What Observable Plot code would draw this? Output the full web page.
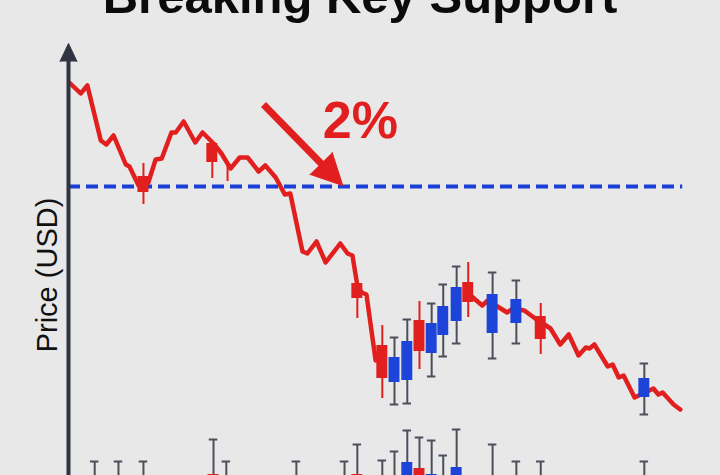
<!DOCTYPE html>
<html>
<head>
<meta charset="utf-8">
<script src="https://cdn.jsdelivr.net/npm/d3@7"></script>
<script src="https://cdn.jsdelivr.net/npm/@observablehq/plot@0.6"></script>
<style>
html, body { margin: 0; padding: 0; background: #e8e8e8; overflow: hidden; }
#wrap { position: relative; width: 720px; height: 475px; overflow: hidden; }
#title { position: absolute; left: 0; top: -28.5px; width: 720px; text-align: center;
  font: bold 49px "Liberation Sans", Arial, sans-serif; line-height: 49px; color: #0b0b0b; z-index: 2; }
#chart { position: absolute; left: 0; top: 0; }
</style>
</head>
<body>
<div id="wrap">
  <div id="title">Breaking Key Support</div>
  <div id="chart"></div>
</div>
<script>
// ---- data ----
const titleText = "Breaking Key Support";
const yLabel = "Price (USD)";
const breakLabel = "2%";
const supportLevel = 100;

// price line (day index, price) before the breakdown candles
const lineA_t = [0.3, 2.0, 3.1, 5.3, 6.2, 7.4, 9.4, 10.0, 11.5, 13.1, 14.3, 15.3, 16.9, 17.6, 18.9, 20.8, 22.0, 23.8, 25.1, 26.6, 28.1, 29.4, 31.2, 32.3, 34.0, 34.8, 35.5, 36.4, 38.4, 39.2, 40.7, 42.2, 44.6, 45.8, 46.6, 47.4, 48.1, 48.9, 50.4];
const lineA_p = [110.3, 109.3, 110.1, 104.6, 104.2, 105.1, 102.2, 102.0, 100.1, 100.4, 102.7, 102.8, 105.4, 105.4, 106.5, 104.4, 105.4, 104.3, 103.3, 101.8, 102.9, 102.9, 101.5, 102.1, 100.9, 100.0, 99.2, 99.3, 93.5, 93.3, 94.5, 92.4, 94.3, 93.3, 93.1, 90.1, 89.4, 89.2, 82.6];
// price line after the rebound
const lineB_t = [65.6, 67.9, 68.8, 72.0, 72.9, 74.8, 76.6, 79.1, 80.7, 82.1, 83.7, 84.9, 85.5, 86.3, 88.5, 89.3, 90.3, 91.1, 92.9, 96.0, 96.8, 97.5, 99.3, 100.4];
const lineB_p = [89.3, 88.1, 88.6, 87.4, 87.8, 87.6, 86.8, 85.8, 84.2, 85.2, 83.1, 83.9, 83.8, 84.2, 82.0, 82.2, 80.9, 81.1, 78.9, 79.8, 79.2, 79.4, 78.2, 77.7];

// candlesticks
const candleT     = [12.3, 23.6, 26.1, 47.4, 51.5, 53.5, 55.6, 57.6, 59.6, 61.5, 63.7, 65.6, 69.6, 73.5, 77.5, 94.5];
const candleOpen  = [101.0, 104.3, 102.1, 90.3, 84.1, 80.4, 80.6, 86.6, 83.3, 85.1, 86.5, 90.4, 85.3, 86.3, 87.0, 78.9];
const candleClose = [99.4, 102.4, 102.1, 88.8, 80.8, 82.9, 84.5, 83.5, 86.3, 88.0, 89.9, 88.4, 89.2, 88.7, 84.7, 80.8];
const candleHigh  = [102.3, 104.3, 102.3, 90.3, 86.1, 84.9, 86.7, 88.5, 88.3, 90.2, 92.0, 92.4, 91.4, 90.6, 88.3, 82.3];
const candleLow   = [98.2, 100.8, 100.5, 86.8, 78.8, 78.2, 78.3, 81.7, 81.0, 83.0, 84.3, 86.9, 82.8, 84.3, 83.2, 77.2];

// lower row of candles (cut off by the bottom edge)
const lowerT       = [4.3, 8.2, 12.3, 23.8, 25.9, 37.4, 45.3, 47.4, 51.5, 53.5, 55.6, 57.6, 59.6, 61.5, 63.7, 69.6, 73.5, 77.5, 94.5];
const lowerHigh    = [72.5, 72.5, 72.5, 74.7, 72.5, 72.5, 72.5, 74.2, 72.6, 73.5, 75.6, 74.9, 74.6, 73.1, 75.7, 74.2, 72.5, 72.5, 72.5];
const lowerBodyTop = [null, null, null, 71.2, null, null, null, 71.2, null, null, 72.4, 71.8, 71.2, null, 71.9, null, null, null, null];
const lowerUp      = [null, null, null, false, null, null, null, false, null, null, true, false, true, null, true, null, null, null, null];

// annotation arrow (from, to support)
const arrowFrom = {t: 32.0, p: 108.2};
const arrowTo   = {t: 45.0, p: 100.1};
const labelPos  = {t: 47.9, p: 104.9};

// ---- layout / style ----
const W = 720, H = 475, ML = 68, MR = 0;
const xDomain = [0, 107], yDomain = [71.1, 118.6];
const RED = "#e21f1f", BLUE = "#1c44d8", DASH = "#1b3fd4", GRAY = "#4a4f5a", AXIS = "#2f3440";
const FONT = "'Liberation Sans', Arial, Helvetica, sans-serif";

const lineData = [
  ...lineA_t.map((t, i) => ({t, p: lineA_p[i], seg: "a"})),
  ...lineB_t.map((t, i) => ({t, p: lineB_p[i], seg: "b"}))
];
const candles = candleT.map((t, i) => ({
  t, open: candleOpen[i], close: candleClose[i], high: candleHigh[i], low: candleLow[i],
  up: candleClose[i] > candleOpen[i]
}));
const upC = candles.filter(d => d.up), downC = candles.filter(d => !d.up);
const lower = lowerT.map((t, i) => ({t, high: lowerHigh[i], body: lowerBodyTop[i], up: lowerUp[i]}));
const lowerBodies = lower.filter(d => d.body != null);

const pxPerT = (W - ML - MR) / (xDomain[1] - xDomain[0]);
const pxPerP = H / (yDomain[1] - yDomain[0]);
const adx = (arrowTo.t - arrowFrom.t) * pxPerT;
const ady = (arrowFrom.p - arrowTo.p) * pxPerP; // screen down
const alen = Math.hypot(adx, ady);
const arrowAngle = Math.atan2(adx, -ady) * 180 / Math.PI;
const headLen = 31;
const f = 1 - 20 / alen;
const shaft = {
  t1: arrowFrom.t, p1: arrowFrom.p,
  t2: arrowFrom.t + f * (arrowTo.t - arrowFrom.t),
  p2: arrowFrom.p + f * (arrowTo.p - arrowFrom.p)
};
const axisTopP = yDomain[1] - 61 / pxPerP;
const halfW = 0.9, capW = 0.7;

const chart = Plot.plot({
  width: W, height: H,
  marginLeft: ML, marginRight: MR, marginTop: 0, marginBottom: 0,
  x: {domain: xDomain, axis: null},
  y: {domain: yDomain, axis: null},
  style: {background: "transparent", overflow: "hidden"},
  marks: [
    // support line
    Plot.ruleY([supportLevel], {x1: 0, x2: 100.8, stroke: DASH, strokeWidth: 4, strokeDasharray: "12,6"}),
    // price line
    Plot.line(lineData, {x: "t", y: "p", z: "seg", stroke: RED, strokeWidth: 4.5, strokeLinejoin: "round", strokeLinecap: "round"}),
    // lower row
    Plot.ruleX(lower, {x: "t", y1: yDomain[0], y2: "high", stroke: GRAY, strokeWidth: 2}),
    Plot.ruleY(lower, {y: "high", x1: d => d.t - capW, x2: d => d.t + capW, stroke: GRAY, strokeWidth: 2}),
    Plot.rect(lowerBodies, {x1: d => d.t - halfW, x2: d => d.t + halfW, y1: yDomain[0], y2: "body", fill: d => d.up ? BLUE : RED}),
    // candle wicks
    Plot.ruleX(downC, {x: "t", y1: "low", y2: "high", stroke: RED, strokeWidth: 2}),
    Plot.ruleX(upC, {x: "t", y1: "low", y2: "high", stroke: GRAY, strokeWidth: 2}),
    Plot.ruleY(upC, {y: "high", x1: d => d.t - capW, x2: d => d.t + capW, stroke: GRAY, strokeWidth: 2}),
    Plot.ruleY(upC, {y: "low", x1: d => d.t - capW, x2: d => d.t + capW, stroke: GRAY, strokeWidth: 2}),
    // candle bodies
    Plot.rect(downC, {x1: d => d.t - halfW, x2: d => d.t + halfW, y1: "open", y2: "close", fill: RED}),
    Plot.rect(upC, {x1: d => d.t - halfW, x2: d => d.t + halfW, y1: "open", y2: "close", fill: BLUE}),
    // y axis with arrowhead
    Plot.ruleX([0], {y1: yDomain[0], y2: axisTopP, stroke: AXIS, strokeWidth: 4}),
    Plot.vector([{t: 0, p: axisTopP}], {x: "t", y: "p", shape: "spike", length: 18, r: 8.5, rotate: 0, anchor: "start", fill: AXIS, stroke: AXIS, strokeWidth: 1}),
    // annotation arrow
    Plot.link([shaft], {x1: "t1", y1: "p1", x2: "t2", y2: "p2", stroke: RED, strokeWidth: 7, strokeLinecap: "butt"}),
    Plot.vector([arrowTo], {x: "t", y: "p", shape: "spike", length: headLen, r: 15.5, rotate: arrowAngle, anchor: "end", fill: RED, stroke: RED, strokeWidth: 1}),
    Plot.text([breakLabel], {x: labelPos.t, y: labelPos.p, text: d => d, fill: RED, fontSize: 52, fontWeight: "bold", fontFamily: FONT, lineAnchor: "bottom", textAnchor: "middle"}),
    // y label
    Plot.text([yLabel], {frameAnchor: "left", dx: -12, dy: 37, text: d => d, rotate: -90, fontSize: 29, fill: "#111", fontFamily: FONT, lineAnchor: "bottom", textAnchor: "middle"})
  ]
});
document.getElementById("chart").appendChild(chart);
document.getElementById("title").textContent = titleText;
</script>
</body>
</html>
